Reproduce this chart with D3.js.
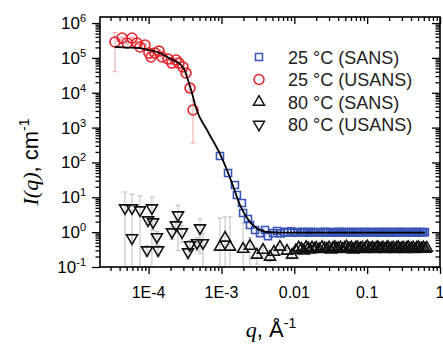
<!DOCTYPE html>
<html>
<head>
<meta charset="utf-8">
<script src="https://cdn.jsdelivr.net/npm/d3@7"></script>
<style>
  body { margin: 0; background: #fff; }
  svg text { font-family: "Liberation Sans", Arial, sans-serif; }
</style>
</head>
<body>
<div id="chart"></div>
<script>
// 25 °C (SANS)
const sans25Q = [9.54e-4, 1.23e-3, 1.53e-3, 1.63e-3, 1.91e-3, 1.98e-3, 2.31e-3, 2.46e-3, 2.89e-3, 3.38e-3, 3.96e-3, 4.35e-3, 5.1e-3, 5.8e-3, 6.5e-3, 7.3e-3, 8.1e-3, 9.0e-3,
    0.0100, 0.0110, 0.0120, 0.0130, 0.0140, 0.0150, 0.0160, 0.0170, 0.0180, 0.0195, 0.021, 0.023, 0.025, 0.027, 0.029, 0.031, 0.033, 0.035, 0.037, 0.039,
    0.042, 0.045, 0.048, 0.051, 0.054, 0.057, 0.060, 0.064, 0.068, 0.072, 0.076, 0.080, 0.085, 0.090, 0.095, 0.100, 0.106, 0.112, 0.118, 0.125,
    0.132, 0.139, 0.147, 0.155, 0.164, 0.173, 0.183, 0.193, 0.204, 0.215, 0.227, 0.239, 0.252, 0.266, 0.281, 0.296, 0.312, 0.329, 0.347, 0.366,
    0.386, 0.407, 0.429, 0.452, 0.477, 0.503, 0.531, 0.560, 0.590, 0.620];
const sans25I = [153, 49.7, 22.5, 11.6, 6.85, 3.54, 2.38, 1.60, 1.15, 0.94, 1.15, 0.77, 0.94, 1.08, 0.92, 1.02, 0.96, 1.05,
    0.97, 1.01, 0.98, 1.03, 0.99, 0.97, 1.02, 0.98, 1.00, 0.99, 1.01, 0.97, 1.00, 1.02, 0.98, 0.99, 1.01, 0.98, 1.00, 0.99,
    1.02, 0.98, 1.00, 0.99, 1.01, 0.98, 1.00, 1.00, 0.99, 1.01, 0.98, 1.00, 0.99, 1.00, 1.01, 0.99, 1.00, 0.98, 1.00, 0.99,
    1.01, 0.99, 1.00, 0.98, 1.00, 1.01, 0.99, 1.00, 0.99, 1.01, 0.98, 1.00, 0.99, 1.00, 1.01, 0.99, 1.00, 0.98, 1.00, 0.99,
    1.01, 0.99, 1.00, 0.98, 1.00, 1.01, 0.99, 1.00, 0.99, 1.00];

// 25 °C (USANS)
const usans25Q = [3.45e-5, 4.31e-5, 5.05e-5, 5.91e-5, 6.93e-5, 7.61e-5, 8.92e-5, 1.01e-4, 1.08e-4, 1.22e-4, 1.39e-4, 1.53e-4, 1.85e-4, 2.09e-4, 2.38e-4, 2.61e-4, 2.96e-4, 3.26e-4, 3.70e-4, 4.07e-4];
const usans25I = [2.85e5, 3.71e5, 2.67e5, 3.71e5, 2.67e5, 2.05e5, 2.34e5, 1.38e5, 1.06e5, 1.38e5, 1.57e5, 1.06e5, 9.3e4, 7.1e4, 8.7e4, 7.1e4, 5.5e4, 3.7e4, 1.36e4, 3.19e3];
const usans25Err = [2.45e5, 2e4, 2e4, 2e4, 2e4, 1.5e4, 1.5e4, 1e4, 1e4, 1e4, 1e4, 8e3, 7e3, 6e3, 6e3, 5e3, 5e3, 4e3, 2e3, 2830];

// 80 °C (SANS)
const sans80Q = [9.54e-4, 1.12e-3, 1.31e-3, 1.98e-3, 2.46e-3, 3.07e-3, 3.72e-3, 4.64e-3, 5.26e-3, 6.35e-3, 7.93e-3, 9.3e-3,
    0.0105, 0.0115, 0.0125, 0.0135, 0.0145, 0.0155, 0.0165, 0.0175, 0.019, 0.020, 0.022, 0.024, 0.026, 0.028, 0.030, 0.032, 0.034, 0.036, 0.038, 0.040,
    0.043, 0.046, 0.049, 0.052, 0.055, 0.058, 0.061, 0.065, 0.069, 0.073, 0.077, 0.081, 0.086, 0.091, 0.096, 0.101, 0.107, 0.113, 0.119, 0.126,
    0.133, 0.140, 0.148, 0.156, 0.165, 0.174, 0.184, 0.194, 0.205, 0.216, 0.228, 0.240, 0.253, 0.267, 0.282, 0.297, 0.313, 0.330, 0.348, 0.367,
    0.387, 0.408, 0.430, 0.454, 0.479, 0.505, 0.533, 0.562, 0.593, 0.626, 0.660];
const sans80I = [0.375, 0.68, 0.375, 0.328, 0.40, 0.221, 0.307, 0.194, 0.269, 0.375, 0.288, 0.221,
    0.30, 0.36, 0.33, 0.29, 0.37, 0.34, 0.31, 0.36, 0.33, 0.35, 0.32, 0.37, 0.34, 0.33, 0.36, 0.31, 0.35, 0.37, 0.33, 0.34,
    0.36, 0.32, 0.35, 0.38, 0.33, 0.34, 0.36, 0.31, 0.35, 0.37, 0.33, 0.34, 0.36, 0.32, 0.35, 0.38, 0.33, 0.34, 0.36, 0.32,
    0.35, 0.37, 0.33, 0.34, 0.36, 0.32, 0.35, 0.37, 0.33, 0.34, 0.36, 0.32, 0.35, 0.37, 0.33, 0.34, 0.36, 0.32, 0.35, 0.37,
    0.33, 0.34, 0.36, 0.32, 0.35, 0.37, 0.33, 0.34, 0.36, 0.33, 0.35];
// only the first points carry visible error bars
const sans80Err = [2.17, 2.04, 2.35, 1.5, 0.3, 0.1, 0.1, 0.05, 0.05, 0.05, 0.05, 0.05];

// 80 °C (USANS)
const usans80Q = [4.74e-5, 5.91e-5, 7.61e-5, 1.11e-4, 9.8e-5, 1.15e-4, 5.91e-5, 1.30e-4, 9.5e-5, 1.35e-4, 2.53e-4, 2.37e-4, 2.09e-4, 2.87e-4, 5.07e-4, 3.70e-4, 3.47e-4, 4.62e-4, 5.57e-4];
const usans80I = [4.92, 4.92, 4.32, 4.92, 2.23, 1.95, 0.68, 0.73, 0.307, 0.307, 3.10, 1.60, 1.01, 1.01, 1.31, 0.43, 0.269, 0.49, 0.49];
const usans80Err = [9.3, 7.5, 6.6, 5.3, 0.6, 0.8, 0.2, 0.3, 0.1, 0.1, 2.8, 0.6, 0.4, 0.5, 1.07, 0.15, 0.1, 0.2, 0.45];

// model fit line
const fitQ = [3.45e-5, 5.0e-5, 7.61e-5, 1.0e-4, 1.43e-4, 1.79e-4, 2.16e-4, 2.78e-4, 3.16e-4, 3.47e-4, 3.94e-4, 4.47e-4, 6.33e-4, 9.54e-4, 1.19e-3, 1.44e-3, 1.80e-3, 2.24e-3, 2.89e-3, 4.22e-3, 7.0e-3, 0.015, 0.05, 0.2, 0.62];
const fitI = [2.05e5, 1.98e5, 1.91e5, 1.68e5, 1.38e5, 1.06e5, 8.7e4, 6.24e4, 4.2e4, 2.31e4, 9.8e3, 3.64e3, 851, 175, 60.6, 21.1, 6.0, 2.55, 1.40, 1.01, 0.97, 0.97, 0.97, 0.97, 0.97];

// tick labels
const xTickValues = [1e-4, 1e-3, 0.01, 0.1, 1];
const xTickLabels = ["1E-4", "1E-3", "0.01", "0.1", "1"];
const yTickExponents = [-1, 0, 1, 2, 3, 4, 5, 6];

const legendLabels = ["25 °C (SANS)", "25 °C (USANS)", "80 °C (SANS)", "80 °C (USANS)"];

const width = 443, height = 346;
const margin = {top: 17, right: 3, bottom: 79, left: 100};
const innerW = width - margin.left - margin.right;
const innerH = height - margin.top - margin.bottom;

const svg = d3.select("#chart").append("svg")
    .attr("width", width)
    .attr("height", height);

const x = d3.scaleLog().domain([2.15e-5, 1]).range([margin.left, margin.left + innerW]);
const y = d3.scaleLog().domain([0.1, 1.49e6]).range([margin.top + innerH, margin.top]);

const isDecade = v => Math.abs(Math.log10(v) - Math.round(Math.log10(v))) < 1e-9;
const xMinor = x.ticks().filter(v => !isDecade(v));
const yMinor = y.ticks().filter(v => !isDecade(v));
const yMajor = yTickExponents.map(e => Math.pow(10, e));

svg.append("defs").append("clipPath").attr("id", "plot")
    .append("rect")
    .attr("x", margin.left).attr("y", margin.top)
    .attr("width", innerW).attr("height", innerH);

const plot = svg.append("g").attr("clip-path", "url(#plot)");

// error bars
function errorBars(qs, is, es, color) {
    const g = plot.append("g").attr("stroke", color).attr("stroke-width", 1);
    es.forEach((e, i) => {
        const top = y(is[i] + e);
        const lo = is[i] - e;
        const bottom = lo > 0 ? y(lo) : y.range()[0] + 2;
        const cx = x(qs[i]);
        g.append("line").attr("x1", cx).attr("x2", cx).attr("y1", top).attr("y2", bottom);
        g.append("line").attr("x1", cx - 2.5).attr("x2", cx + 2.5).attr("y1", top).attr("y2", top);
        if (lo > 0) g.append("line").attr("x1", cx - 2.5).attr("x2", cx + 2.5).attr("y1", bottom).attr("y2", bottom);
    });
}
errorBars(usans80Q, usans80I, usans80Err, "#bdbdbd");
errorBars(sans80Q, sans80I, sans80Err, "#bdbdbd");
errorBars(usans25Q, usans25I, usans25Err, "#f0a0a4");

const blue = "#3a56b8", red = "#e3262c", black = "#111";

const symSquare = d3.symbol().type(d3.symbolSquare).size(49)();
const symCircle = d3.symbol().type(d3.symbolCircle).size(78)();
const symTri = d3.symbol().type(d3.symbolTriangle).size(52)();

function markers(qs, is, path, color, rot) {
    plot.append("g").selectAll("path")
        .data(qs)
        .join("path")
        .attr("d", path)
        .attr("transform", (q, i) => "translate(" + x(q) + "," + y(is[i]) + ")" + (rot ? " rotate(180)" : ""))
        .attr("fill", "none")
        .attr("stroke", color)
        .attr("stroke-width", 1.6);
}
markers(usans80Q, usans80I, symTri, black, true);
markers(sans80Q, sans80I, symTri, black, false);
markers(sans25Q, sans25I, symSquare, blue, false);
markers(usans25Q, usans25I, symCircle, red, false);

// fit line
const line = d3.line()
    .x(d => x(d[0]))
    .y(d => y(d[1]))
    .curve(d3.curveMonotoneX);

plot.append("path")
    .datum(fitQ.map((q, i) => [q, fitI[i]]))
    .attr("fill", "none")
    .attr("stroke", "#000")
    .attr("stroke-width", 1.8)
    .attr("d", line);

// axes
const bottomY = margin.top + innerH, rightX = margin.left + innerW;
function addAxis(axisFn, scale, vals, size, tr) {
    svg.append("g")
        .attr("transform", tr)
        .call(axisFn(scale).tickValues(vals).tickSize(size).tickFormat(""))
        .call(g => g.select(".domain").remove())
        .call(g => g.selectAll("line").attr("stroke", "#000").attr("stroke-width", 1.3));
}
addAxis(d3.axisBottom, x, xMinor, 4, "translate(0," + bottomY + ")");
addAxis(d3.axisBottom, x, xTickValues, 7, "translate(0," + bottomY + ")");
addAxis(d3.axisBottom, x, xMinor, 4, "translate(0," + margin.top + ")");
addAxis(d3.axisBottom, x, xTickValues, 7, "translate(0," + margin.top + ")");
addAxis(d3.axisLeft, y, yMinor, 4.5, "translate(" + margin.left + ",0)");
addAxis(d3.axisLeft, y, yMajor, 8, "translate(" + margin.left + ",0)");
addAxis(d3.axisLeft, y, yMinor, 4.5, "translate(" + rightX + ",0)");
addAxis(d3.axisLeft, y, yMajor, 8, "translate(" + rightX + ",0)");

svg.append("rect")
    .attr("x", margin.left).attr("y", margin.top)
    .attr("width", innerW).attr("height", innerH)
    .attr("fill", "none").attr("stroke", "#000").attr("stroke-width", 1.6);

// x tick labels
svg.append("g").selectAll("text")
    .data(xTickValues)
    .join("text")
    .attr("x", d => x(d))
    .attr("y", 298)
    .attr("text-anchor", "middle")
    .attr("font-size", 16)
    .text((d, i) => xTickLabels[i]);

// y tick labels
const yLab = svg.append("g").selectAll("text")
    .data(yTickExponents)
    .join("text")
    .attr("x", 86)
    .attr("y", e => y(Math.pow(10, e)) + 6)
    .attr("text-anchor", "end")
    .attr("font-size", 17);
yLab.append("tspan").text("10");
yLab.append("tspan").attr("dy", -7).attr("font-size", 11).text(e => e);

// axis titles
const yt = svg.append("text")
    .attr("transform", "translate(38,162) rotate(-90)")
    .attr("text-anchor", "middle")
    .attr("font-size", 22);
yt.append("tspan").attr("font-family", "Liberation Serif, serif").attr("font-style", "italic").text("I(q)");
yt.append("tspan").text(", cm");
yt.append("tspan").attr("dy", -9).attr("font-size", 14).text("-1");

const xt = svg.append("text")
    .attr("x", 271).attr("y", 337)
    .attr("text-anchor", "middle")
    .attr("font-size", 22);
xt.append("tspan").attr("font-family", "Liberation Serif, serif").attr("font-style", "italic").text("q");
xt.append("tspan").text(", Å");
xt.append("tspan").attr("dy", -9).attr("font-size", 14).text("-1");

// legend
const legendSyms = [[symSquare, blue, false], [symCircle, red, false], [symTri, black, false], [symTri, black, true]];
const leg = svg.append("g").selectAll("g")
    .data(legendLabels)
    .join("g")
    .attr("transform", (d, i) => "translate(259," + (57 + i * 22.5) + ")");
leg.append("path")
    .attr("d", (d, i) => legendSyms[i][0])
    .attr("transform", (d, i) => legendSyms[i][2] ? "rotate(180)" : null)
    .attr("fill", "none")
    .attr("stroke", (d, i) => legendSyms[i][1])
    .attr("stroke-width", 1.5);
leg.append("text")
    .attr("x", 29).attr("y", 6.5)
    .attr("font-size", 18)
    .attr("fill", "#222")
    .text(d => d);
</script>
</body>
</html>
